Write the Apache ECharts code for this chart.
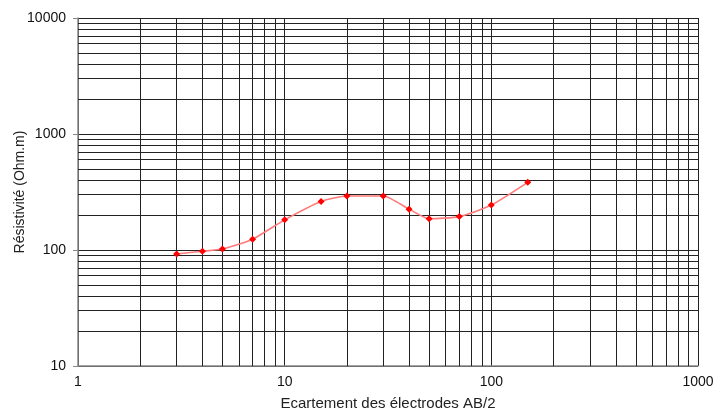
<!DOCTYPE html>
<html><head><meta charset="utf-8">
<script src="https://cdn.jsdelivr.net/npm/echarts@6/dist/echarts.min.js"></script>
<style>html,body{margin:0;padding:0;background:#fff}#c{width:714px;height:410px}</style>
</head><body><div id="c"></div>
<script>
const spacing = [3, 4, 5, 7, 10, 15, 20, 30, 40, 50, 70, 100, 150];
const resistivity = [92.5, 97.5, 102, 124, 182, 262, 292, 292, 225, 186, 194, 244, 383];
const xMinorLines = [2,3,4,5,6,7,8,9,20,30,40,50,60,70,80,90,200,300,400,500,600,700,800,900];
const yMinorLines = [20,30,40,50,60,70,80,90,200,300,400,500,600,700,800,900,2000,3000,4000,5000,6000,7000,8000,9000];
const xTitle = 'Ecartement des électrodes AB/2';
const yTitle = 'Résistivité (Ohm.m)';

const font = 'Liberation Sans, Arial, sans-serif';
const gridLine = {color: '#222', width: 1, type: 'solid'};
const fmt = v => String(Math.round(v));
const chart = echarts.init(document.getElementById('c'), null, {renderer: 'canvas'});
chart.setOption({
  animation: false,
  grid: {left: 78, right: 16, top: 18, bottom: 44, containLabel: false, outerBoundsMode: 'none'},
  xAxis: {
    type: 'log', logBase: 10, min: 1, max: 1000,
    name: xTitle, nameLocation: 'middle', nameGap: 38, nameMoveOverlap: false,
    nameTextStyle: {fontFamily: font, fontSize: 15, color: '#222', verticalAlign: 'middle'},
    axisLine: {show: true, onZero: false, lineStyle: {color: '#888', width: 1.5}},
    axisTick: {show: false},
    axisLabel: {fontFamily: font, fontSize: 14, color: '#111', margin: 9, formatter: fmt},
    splitLine: {show: true, lineStyle: gridLine}
  },
  yAxis: {
    type: 'log', logBase: 10, min: 10, max: 10000,
    name: yTitle, nameLocation: 'middle', nameGap: 58, nameRotate: 90, nameMoveOverlap: false,
    nameTextStyle: {fontFamily: font, fontSize: 14, color: '#222', verticalAlign: 'middle'},
    axisLine: {show: true, onZero: false, lineStyle: {color: '#888', width: 1.5}},
    axisTick: {show: true, length: 5, lineStyle: {color: '#888'}},
    axisLabel: {fontFamily: font, fontSize: 14, color: '#111', margin: 12, formatter: fmt},
    splitLine: {show: true, lineStyle: gridLine}
  },
  series: [
    {
      type: 'line', data: [], silent: true,
      markLine: {
        silent: true, symbol: ['none', 'none'], animation: false,
        label: {show: false},
        lineStyle: gridLine,
        data: xMinorLines.map(v => ({xAxis: v})).concat(yMinorLines.map(v => ({yAxis: v})))
      }
    },
    {
      type: 'line',
      data: spacing.map((x, i) => [x, resistivity[i]]),
      smooth: 0.2,
      symbol: 'diamond', symbolSize: 7,
      itemStyle: {color: '#ff0000'},
      lineStyle: {color: '#ff7a7a', width: 1.6},
      z: 5
    }
  ]
});
</script></body></html>
